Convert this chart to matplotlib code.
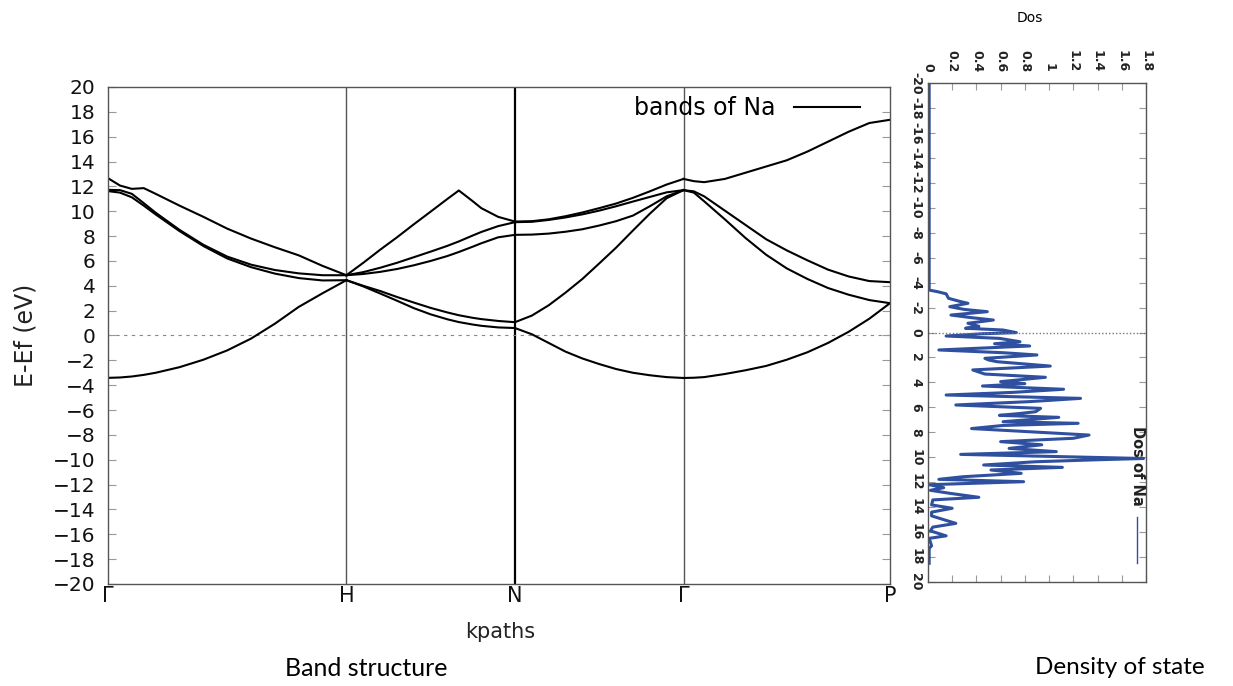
import numpy as np
import matplotlib
matplotlib.use("Agg")
import matplotlib.pyplot as plt

# --- k-path (bcc) ---
kpath_labels = ["Γ", "H", "N", "Γ", "P"]
kpath_pos = [0.0, 1.0, 1.707, 2.414, 3.280]

# --- bands, per segment: fractional position t, energies ---
gh_t = [0, 0.05, 0.1, 0.15, 0.2, 0.3, 0.4, 0.5, 0.6, 0.7, 0.8, 0.9, 1.0]
gh_bands = [
    [12.66, 12.07, 11.80, 11.86, 11.40, 10.45, 9.55, 8.60, 7.80, 7.10, 6.45, 5.60, 4.85],
    [11.72, 11.70, 11.40, 10.65, 9.88, 8.50, 7.30, 6.35, 5.70, 5.27, 5.00, 4.85, 4.85],
    [11.62, 11.50, 11.12, 10.45, 9.74, 8.40, 7.20, 6.20, 5.50, 4.98, 4.62, 4.43, 4.45],
    [-3.41, -3.38, -3.30, -3.17, -3.00, -2.55, -1.95, -1.20, -0.25, 0.95, 2.30, 3.40, 4.45],
]

hn_t = [0, 0.1, 0.2, 0.3, 0.4, 0.5, 0.6, 0.667, 0.75, 0.8, 0.9, 1.0]
hn_bands = [
    [4.85, 5.85, 6.90, 7.90, 8.95, 9.97, 11.00, 11.67, 10.80, 10.25, 9.55, 9.17],
    [4.85, 5.10, 5.45, 5.85, 6.30, 6.75, 7.22, 7.57, 8.05, 8.33, 8.80, 9.12],
    [4.85, 4.95, 5.12, 5.35, 5.65, 6.00, 6.40, 6.72, 7.15, 7.42, 7.90, 8.10],
    [4.45, 4.00, 3.58, 3.10, 2.65, 2.22, 1.85, 1.63, 1.42, 1.32, 1.17, 1.07],
    [4.45, 3.95, 3.38, 2.80, 2.20, 1.70, 1.30, 1.08, 0.88, 0.78, 0.65, 0.60],
]

ng_t = [0, 0.1, 0.2, 0.3, 0.4, 0.5, 0.6, 0.7, 0.8, 0.9, 1.0]
ng_bands = [
    [9.17, 9.20, 9.35, 9.60, 9.90, 10.25, 10.62, 11.08, 11.60, 12.15, 12.60],
    [9.12, 9.15, 9.30, 9.50, 9.75, 10.05, 10.40, 10.78, 11.15, 11.52, 11.70],
    [8.10, 8.12, 8.20, 8.35, 8.55, 8.85, 9.20, 9.65, 10.40, 11.20, 11.70],
    [1.07, 1.60, 2.43, 3.45, 4.55, 5.80, 7.07, 8.45, 9.80, 11.05, 11.70],
    [0.60, 0.10, -0.60, -1.30, -1.85, -2.30, -2.70, -3.00, -3.20, -3.35, -3.42],
]

gp_t = [0, 0.05, 0.1, 0.2, 0.3, 0.4, 0.5, 0.6, 0.7, 0.8, 0.9, 1.0]
gp_bands = [
    [12.60, 12.42, 12.34, 12.60, 13.10, 13.60, 14.10, 14.80, 15.60, 16.40, 17.10, 17.36],
    [11.70, 11.60, 11.20, 10.05, 8.90, 7.75, 6.85, 6.05, 5.30, 4.75, 4.38, 4.29],
    [11.70, 11.50, 10.80, 9.35, 7.85, 6.50, 5.40, 4.55, 3.82, 3.28, 2.85, 2.60],
    [-3.42, -3.40, -3.35, -3.10, -2.80, -2.45, -1.95, -1.35, -0.60, 0.30, 1.35, 2.60],
]

segments = [(gh_t, gh_bands), (hn_t, hn_bands), (ng_t, ng_bands), (gp_t, gp_bands)]

# --- DOS (energy in eV, dos) ---
dos_energy = [-20.0, -3.40, -3.27, -3.10, -2.74, -2.50, -2.34, -2.07, -1.85, -1.67,
              -1.40, -1.20, -1.00, -0.74, -0.50, -0.34, -0.20, 0.01, 0.10, 0.28,
              0.47, 0.74, 0.90, 1.08, 1.40, 1.62, 1.80, 2.07, 2.20, 2.34,
              2.69, 3.00, 3.33, 3.59, 3.94, 4.10, 4.29, 4.55, 4.80, 5.01,
              5.28, 5.54, 5.81, 6.08, 6.35, 6.50, 6.64, 6.80, 7.15, 7.28,
              7.45, 7.70, 8.03, 8.22, 8.48, 8.75, 9.00, 9.29, 9.55, 9.77,
              10.10, 10.20, 10.36, 10.62, 10.81, 11.02, 11.29, 11.56, 11.77, 11.96,
              12.20, 12.44, 12.65, 12.89, 13.21, 13.42, 13.82, 14.09, 14.40, 14.70,
              15.30, 15.60, 15.90, 16.30, 16.50, 17.10, 17.30, 18.50]
dos_value = [0.01, 0.01, 0.08, 0.15, 0.17, 0.26, 0.33, 0.18, 0.30, 0.49,
             0.19, 0.35, 0.54, 0.33, 0.42, 0.31, 0.62, 0.73, 0.45, 0.15,
             0.59, 0.76, 0.55, 0.84, 0.09, 0.62, 0.90, 0.47, 0.50, 0.57,
             1.01, 0.37, 0.47, 0.97, 0.60, 0.80, 0.45, 1.12, 0.70, 0.15,
             1.26, 0.84, 0.23, 0.93, 0.89, 0.75, 0.59, 1.08, 0.62, 1.24,
             0.62, 0.36, 0.98, 1.33, 1.20, 0.60, 0.94, 0.67, 1.06, 0.27,
             1.78, 1.40, 0.89, 0.46, 1.11, 0.52, 0.77, 0.29, 0.09, 0.79,
             0.01, 0.13, 0.02, 0.18, 0.42, 0.04, 0.03, 0.20, 0.03, 0.03,
             0.23, 0.04, 0.02, 0.15, 0.01, 0.03, 0.01, 0.01]

energy_ticks = list(range(-20, 21, 2))
dos_ticks = [0, 0.2, 0.4, 0.6, 0.8, 1.0, 1.2, 1.4, 1.6, 1.8]
dos_tick_labels = ["0", "0.2", "0.4", "0.6", "0.8", "1", "1.2", "1.4", "1.6", "1.8"]

GRAY = "#555555"
DOS_BLUE = "#2f4f9f"

fig = plt.figure(figsize=(12.33, 6.86), dpi=100)

# ---------------- band structure ----------------
ax = fig.add_axes([0.0876, 0.1487, 0.6342, 0.7245])
for i, (t_vals, bands) in enumerate(segments):
    k0, k1 = kpath_pos[i], kpath_pos[i + 1]
    k = k0 + np.array(t_vals) * (k1 - k0)
    for j, band in enumerate(bands):
        lab = "bands of Na" if (i == 0 and j == 0) else None
        ax.plot(k, band, color="black", lw=1.5, label=lab)

for kp, lw, col in zip(kpath_pos[1:4], [1.0, 1.6, 1.0], [GRAY, "black", GRAY]):
    ax.axvline(kp, color=col, lw=lw, zorder=1)
ax.axhline(0, color="#888888", lw=0.8, ls=(0, (3, 4)), zorder=1)

ax.set_xlim(kpath_pos[0], kpath_pos[-1])
ax.set_ylim(-20, 20)
ax.set_yticks(energy_ticks)
ax.set_xticks(kpath_pos)
ax.set_xticklabels(kpath_labels, fontsize=15)
ax.tick_params(axis="y", direction="in", length=6, width=0.8, color="#999999",
               left=True, right=True, labelsize=14.5, pad=9, labelcolor="#111111")
ax.tick_params(axis="x", length=0, pad=1.5, labelcolor="#111111")
for s in ax.spines.values():
    s.set_color(GRAY)
    s.set_linewidth(1.0)

ax.set_xlabel("kpaths", fontsize=15, color="#222222")
ax.xaxis.set_label_coords(0.501, -0.076)
ax.set_ylabel("E-Ef (eV)", fontsize=17, color="#222222")
ax.yaxis.set_label_coords(-0.09, 0.5)

ax.legend(loc="upper right", frameon=False, markerfirst=False, fontsize=17,
          handlelength=2.8, borderaxespad=0.0, bbox_to_anchor=(0.974, 1.0))

# ---------------- density of states ----------------
ax2 = fig.add_axes([0.7526, 0.1516, 0.1768, 0.7274])
ax2.plot(dos_value, dos_energy, color=DOS_BLUE, lw=2.2)
ax2.axhline(0, color="#777777", lw=1.0, ls=(0, (1, 1.5)))
ax2.set_xlim(0, 1.8)
ax2.set_ylim(20, -20)
ax2.xaxis.tick_top()
ax2.set_xticks(dos_ticks)
ax2.set_xticklabels(dos_tick_labels, rotation=-90, fontsize=9, fontweight="bold",
                    va="bottom", ha="center")
ax2.set_yticks(energy_ticks)
ax2.set_yticklabels([str(v) for v in energy_ticks], rotation=-90, fontsize=9,
                    fontweight="bold", va="center", ha="right")
ax2.tick_params(axis="x", direction="in", length=5, width=0.8, color="#999999",
                top=True, bottom=True, pad=8, labelcolor="#222222")
ax2.tick_params(axis="y", direction="in", length=5, width=0.8, color="#999999",
                left=True, right=True, pad=4, labelcolor="#222222")
for s in ax2.spines.values():
    s.set_color(GRAY)
    s.set_linewidth(1.0)

# rotated legend of the DOS panel
ax2.text(0.959, 0.232, "Dos of Na", rotation=-90, transform=ax2.transAxes,
         ha="center", va="center", fontsize=10.5, fontweight="bold", color="#222222")
ax2.plot([0.959, 0.959], [0.038, 0.13], transform=ax2.transAxes,
         color=DOS_BLUE, lw=1.0)

fig.text(1030 / 1233, 1 - 18 / 686, "Dos", ha="center", va="center", fontsize=10)

# captions
fig.text(366 / 1233, 1 - 668 / 686, "Band structure", ha="center", va="center",
         fontsize=18, family=["Lato", "DejaVu Sans"])
fig.text(1120 / 1233, 1 - 668 / 686, "Density of state", ha="center", va="center",
         fontsize=17.5, family=["Lato", "DejaVu Sans"])

fig.savefig("out.png", dpi=100, facecolor="white")
